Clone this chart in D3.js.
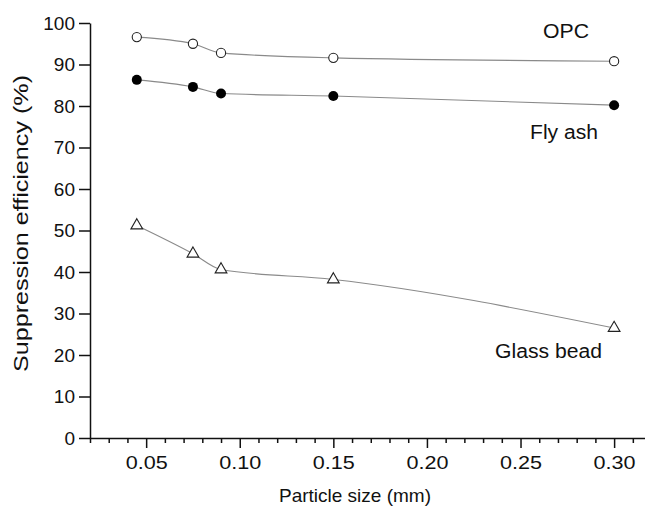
<!DOCTYPE html>
<html><head><meta charset="utf-8">
<script src="https://cdn.jsdelivr.net/npm/d3@7"></script>
<style>body{margin:0;background:#fff}svg{display:block}text{font-family:Arial,"Liberation Sans",sans-serif;fill:#111}</style>
</head><body><svg id="c" width="645" height="509"></svg>
<script>
const sizes = [0.045, 0.075, 0.09, 0.15, 0.30];
const opc = [96.6, 95.0, 92.8, 91.6, 90.8];
const flyAsh = [86.3, 84.6, 83.0, 82.4, 80.2];
const glassBead = [51.2, 44.4, 40.6, 38.2, 26.5];
const seriesNames = ["OPC", "Fly ash", "Glass bead"];
const xTicks = [0.05, 0.10, 0.15, 0.20, 0.25, 0.30];
const yTicks = [0,10,20,30,40,50,60,70,80,90,100];

const svg = d3.select("#c");
const x = d3.scaleLinear().domain([0.02, 0.3165]).range([90, 645]);
const y = d3.scaleLinear().domain([0, 100]).range([438, 23]);

// y axis
const ya = svg.append("g").attr("transform","translate(90,0)")
  .call(d3.axisLeft(y).tickValues(yTicks).tickSize(11).tickPadding(4).tickSizeOuter(0));
ya.select(".domain").attr("stroke","#111").attr("stroke-width",1.5);
ya.selectAll(".tick line").attr("stroke","#111").attr("stroke-width",1.5);
ya.selectAll("text").style("font-size","19px").attr("fill","#111");

// x axis minor
const minor = d3.range(2, 32).map(i => i/100).filter(v => xTicks.every(t => Math.abs(t - v) > 1e-6));
const xm = svg.append("g").attr("transform","translate(0,438)")
  .call(d3.axisBottom(x).tickValues(minor).tickSize(5).tickFormat("").tickSizeOuter(0));
xm.select(".domain").attr("stroke","#111").attr("stroke-width",1.5);
xm.selectAll(".tick line").attr("stroke","#111").attr("stroke-width",1.5);
const xa = svg.append("g").attr("transform","translate(0,438)")
  .call(d3.axisBottom(x).tickValues(xTicks).tickSize(10).tickPadding(8).tickFormat(d3.format(".2f")).tickSizeOuter(0));
xa.select(".domain").remove();
xa.selectAll(".tick line").attr("stroke","#111").attr("stroke-width",1.5);
xa.selectAll("text").style("font-size","19px").attr("fill","#111")
  .attr("textLength", 42).attr("lengthAdjust","spacingAndGlyphs");

// titles
svg.append("text").attr("x", 355).attr("y", 502).attr("text-anchor","middle").style("font-size","19px").text("Particle size (mm)");
svg.append("text").attr("transform","translate(28,372) rotate(-90)").attr("text-anchor","start")
  .attr("textLength", 297).attr("lengthAdjust","spacingAndGlyphs")
  .style("font-size","20px").text("Suppression efficiency (%)");

const line = d3.line().x(d => x(d[0])).y(d => y(d[1])).curve(d3.curveMonotoneX);
const data = [opc, flyAsh, glassBead].map(v => sizes.map((s,i) => [s, v[i]]));
data.forEach(d => svg.append("path").attr("d", line(d)).attr("fill","none").attr("stroke","#8a8a8a").attr("stroke-width",1.1));

// markers
svg.append("g").selectAll("circle").data(data[0]).join("circle")
  .attr("cx", d => x(d[0])).attr("cy", d => y(d[1])).attr("r", 4.6)
  .attr("fill","#fff").attr("stroke","#222").attr("stroke-width",1.1);
svg.append("g").selectAll("circle").data(data[1]).join("circle")
  .attr("cx", d => x(d[0])).attr("cy", d => y(d[1])).attr("r", 5)
  .attr("fill","#000");
const tri = d3.symbol().type(d3.symbolTriangle).size(60);
svg.append("g").selectAll("path").data(data[2]).join("path")
  .attr("transform", d => `translate(${x(d[0])},${y(d[1])})`).attr("d", tri)
  .attr("fill","#fff").attr("stroke","#222").attr("stroke-width",1.1);

// series labels
svg.append("text").attr("x", 543).attr("y", 38).style("font-size","20px").attr("textLength",46).attr("lengthAdjust","spacingAndGlyphs").text(seriesNames[0]);
svg.append("text").attr("x", 530).attr("y", 139).style("font-size","20px").attr("textLength",68).attr("lengthAdjust","spacingAndGlyphs").text(seriesNames[1]);
svg.append("text").attr("x", 495).attr("y", 358).style("font-size","20px").attr("textLength",107).attr("lengthAdjust","spacingAndGlyphs").text(seriesNames[2]);
</script></body></html>
